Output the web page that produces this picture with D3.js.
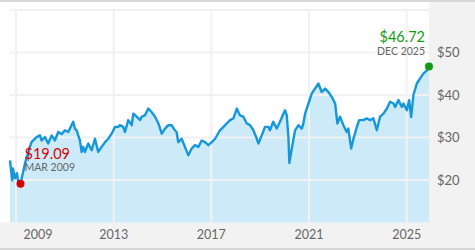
<!DOCTYPE html>
<html>
<head>
<meta charset="utf-8">
<script src="https://cdn.jsdelivr.net/npm/d3@7"></script>
<style>
  html, body { margin: 0; padding: 0; background: #fff; }
  svg { display: block; font-family: Lato, "Open Sans", sans-serif; }
</style>
</head>
<body>
<svg id="viz" width="475" height="250"></svg>
<script>
// --- Data ---
const dates = [
  "2008-10-03","2008-10-18","2008-11-06","2008-11-16","2008-12-16","2009-01-15","2009-01-30","2009-03-09",
  "2009-05-15","2009-06-28","2009-08-20","2009-11-05","2009-12-25","2010-01-18","2010-03-10","2010-04-27",
  "2010-06-18","2010-08-05","2010-09-25","2010-11-15","2011-01-03","2011-02-22","2011-05-06","2011-06-01",
  "2011-06-27","2011-07-20","2011-08-15","2011-09-10","2011-10-03","2011-10-28","2011-12-18","2012-02-07",
  "2012-03-27","2012-05-15","2012-07-04","2012-08-24","2012-10-12","2012-12-02","2013-01-21","2013-03-10",
  "2013-04-03","2013-05-24","2013-06-18","2013-08-07","2013-09-28","2013-10-22","2013-12-12","2014-02-01",
  "2014-02-25","2014-04-13","2014-06-03","2014-07-22","2014-09-12","2014-11-01","2014-12-21","2015-02-09",
  "2015-03-28","2015-05-18","2015-07-06","2015-07-31","2015-08-25","2015-10-15","2015-12-03","2016-01-22",
  "2016-03-12","2016-05-01","2016-06-21","2016-08-10","2016-09-28","2016-11-18","2017-01-07","2017-02-27",
  "2017-05-10","2017-07-01","2017-09-13","2017-10-07","2017-11-27","2018-01-16","2018-03-06","2018-04-25",
  "2018-06-15","2018-08-03","2018-09-22","2018-11-12","2018-12-06","2019-01-25","2019-03-15","2019-05-03",
  "2019-05-28","2019-07-16","2019-09-06","2019-10-25","2019-12-15","2020-01-09","2020-02-03","2020-02-28",
  "2020-03-13","2020-04-18","2020-06-07","2020-07-26","2020-09-15","2020-10-09","2020-11-03","2020-12-24",
  "2021-02-12","2021-04-01","2021-05-21","2021-07-10","2021-08-30","2021-10-18","2021-12-09","2022-01-27",
  "2022-03-01","2022-04-10","2022-05-30","2022-07-19","2022-08-12","2022-09-24","2022-10-28","2022-12-18",
  "2023-01-21","2023-03-25","2023-05-15","2023-07-03","2023-08-22","2023-10-12","2023-11-30","2024-01-20",
  "2024-03-10","2024-04-28","2024-06-18","2024-07-12","2024-08-31","2024-10-21","2024-11-15","2025-01-04",
  "2025-02-08","2025-03-09","2025-04-12","2025-06-02","2025-07-22","2025-09-10","2025-11-01","2025-12-01"
];
const prices = [
  24.6,22.4,19.9,22.7,20.4,21.6,19.9,19.09,
  23.9,26.3,28.9,30.1,30.5,29.3,30.1,28.6,
  30.5,29.3,31.3,30.8,31.7,31.3,33.7,32.1,
  31.7,30.5,29.3,26.6,27.8,26.6,28.6,27.0,
  29.7,26.6,27.8,28.9,29.7,30.9,32.5,32.5,
  32.9,32.5,31.3,34.1,32.9,35.6,34.9,34.1,
  34.9,35.2,36.8,36.0,34.9,33.3,30.9,32.1,
  32.9,32.9,31.7,31.3,28.9,29.7,27.8,25.8,
  27.4,28.2,27.8,29.3,28.9,28.2,28.9,29.7,
  31.7,32.5,33.7,34.1,34.5,36.8,35.2,34.9,
  33.3,32.9,31.7,29.7,28.6,30.5,32.5,32.5,
  31.7,33.7,32.1,33.7,35.6,36.4,35.2,30.1,
  24.0,27.4,31.7,32.9,32.1,33.3,35.6,38.0,
  40.4,41.5,42.7,40.7,41.5,40.7,39.5,38.0,
  33.3,34.9,32.9,31.3,32.1,27.4,29.7,32.5,
  34.1,34.1,34.5,34.1,34.5,31.7,34.9,35.6,
  36.8,38.4,38.0,37.2,38.8,37.2,38.0,36.4,
  38.8,34.8,40.0,42.7,43.9,45.1,45.8,46.72
];
const yTicks = [20, 30, 40, 50];
const yGrid = [20, 30, 40, 50, 60];
const xTickYears = ["2009", "2013", "2017", "2021", "2025"];
const lowPoint = { date: "2009-03-09", value: 19.09, label: "$19.09", sub: "MAR 2009" };
const lastPoint = { date: "2025-12-01", value: 46.72, label: "$46.72", sub: "DEC 2025" };

const CONFIG = {
  plot: { left: 10, right: 429, top: 10, bottom: 222.5 },
  colors: {
    line: "#1597dc",
    area: "#cdeaf8",
    grid: "#f1f1f1",
    panel: "#f2f2f2",
    border: "#d6d6d6",
    text: "#666",
    low: "#d40000",
    high: "#139a13"
  }
};

const parse = d3.timeParse("%Y-%m-%d");
const data = dates.map((d, i) => ({ date: parse(d), value: prices[i] }));

const svg = d3.select("#viz");
const W = 475, H = 250;
const P = CONFIG.plot;

// --- Background panels ---
svg.append("rect").attr("x", P.right).attr("y", 0).attr("width", W - P.right).attr("height", H)
  .attr("fill", CONFIG.colors.panel);
svg.append("rect").attr("x", 0).attr("y", P.bottom).attr("width", W).attr("height", H - P.bottom)
  .attr("fill", CONFIG.colors.panel);
svg.append("rect").attr("x", 0).attr("y", 0).attr("width", W).attr("height", 2)
  .attr("fill", CONFIG.colors.border);
svg.append("rect").attr("x", 0).attr("y", 248).attr("width", W).attr("height", 2)
  .attr("fill", CONFIG.colors.border);

// --- Scales ---
const x = d3.scaleTime()
  .domain(d3.extent(data, d => d.date))
  .range([P.left, P.right]);
const y = d3.scaleLinear()
  .domain([10, 60])
  .range([P.bottom, P.top]);

// --- Area ---
svg.append("path")
  .datum(data)
  .attr("fill", CONFIG.colors.area)
  .attr("d", d3.area().x(d => x(d.date)).y0(P.bottom).y1(d => y(d.value)));

// --- Grid ---
const grid = svg.append("g").attr("stroke", CONFIG.colors.grid).attr("stroke-width", 2);
grid.selectAll(".hg").data(yGrid).join("line")
  .attr("x1", P.left).attr("x2", P.right)
  .attr("y1", d => y(d)).attr("y2", d => y(d));
grid.selectAll(".vg").data(xTickYears).join("line")
  .attr("x1", d => x(parse(d + "-01-01"))).attr("x2", d => x(parse(d + "-01-01")))
  .attr("y1", P.top).attr("y2", P.bottom);

// --- Line ---
svg.append("path")
  .datum(data)
  .attr("fill", "none")
  .attr("stroke", CONFIG.colors.line)
  .attr("stroke-width", 2.4)
  .attr("stroke-linejoin", "round")
  .attr("d", d3.line().x(d => x(d.date)).y(d => y(d.value)));

// --- Axes labels ---
svg.append("g").selectAll("text").data(yTicks).join("text")
  .attr("x", 437).attr("y", d => y(d)).attr("dy", "0.35em")
  .attr("fill", CONFIG.colors.text).attr("font-size", 13)
  .text(d => "$" + d);

svg.append("g").selectAll("text").data(xTickYears).join("text")
  .attr("x", d => Math.max(x(parse(d + "-01-01")), 38))
  .attr("y", 235).attr("dy", "0.35em")
  .attr("text-anchor", "middle")
  .attr("fill", CONFIG.colors.text).attr("font-size", 12.5)
  .text(d => d);

// --- Low / last markers ---
const lx = x(parse(lowPoint.date)), ly = y(lowPoint.value);
svg.append("circle").attr("cx", lx).attr("cy", ly).attr("r", 4).attr("fill", CONFIG.colors.low);
svg.append("text").attr("x", lx + 4).attr("y", ly - 25)
  .attr("fill", CONFIG.colors.low).attr("font-size", 14.5).text(lowPoint.label);
svg.append("text").attr("x", lx + 4).attr("y", ly - 13)
  .attr("fill", CONFIG.colors.text).attr("font-size", 10.5).text(lowPoint.sub);

const hx = x(parse(lastPoint.date)), hy = y(lastPoint.value);
svg.append("circle").attr("cx", hx).attr("cy", hy).attr("r", 4).attr("fill", CONFIG.colors.high);
svg.append("text").attr("x", hx - 4).attr("y", hy - 24)
  .attr("text-anchor", "end")
  .attr("fill", CONFIG.colors.high).attr("font-size", 14.5).text(lastPoint.label);
svg.append("text").attr("x", hx - 4).attr("y", hy - 11.5)
  .attr("text-anchor", "end")
  .attr("fill", CONFIG.colors.text).attr("font-size", 10.5).text(lastPoint.sub);
</script>
</body>
</html>
